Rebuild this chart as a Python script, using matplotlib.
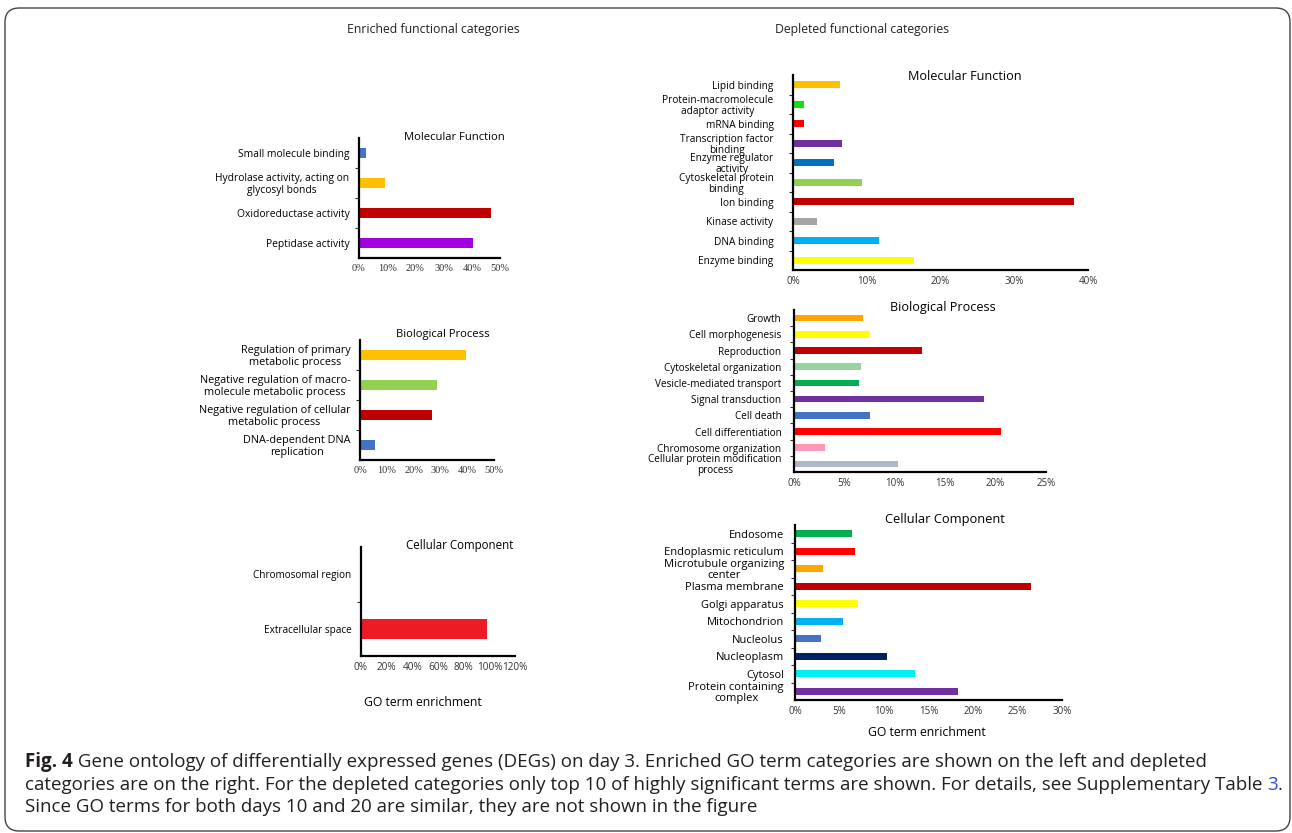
import numpy as np
import matplotlib.pyplot as plt
from matplotlib.patches import FancyBboxPatch

W, H = 1292, 833
SANS = ["Open Sans", "DejaVu Sans"]
SERIF = ["Liberation Serif", "DejaVu Serif"]

# ---- enriched categories (day 3) ----
mf_up_terms = ["Small molecule binding",
               "Hydrolase activity, acting on\nglycosyl bonds",
               "Oxidoreductase activity",
               "Peptidase activity"]
mf_up_vals = [2.4, 9.1, 46.8, 40.3]
mf_up_colors = ["#4472C4", "#FFC000", "#C00000", "#A300E0"]

bp_up_terms = ["Regulation of primary\nmetabolic process",
               "Negative regulation of macro-\nmolecule metabolic process",
               "Negative regulation of cellular\nmetabolic process",
               "DNA-dependent DNA\nreplication"]
bp_up_vals = [39.4, 28.8, 26.8, 5.7]
bp_up_colors = ["#FFC000", "#92D050", "#C00000", "#4472C4"]

cc_up_terms = ["Chromosomal region", "Extracellular space"]
cc_up_vals = [0.0, 98.0]
cc_up_colors = ["#ED1C24", "#ED1C24"]

# ---- depleted categories (top 10) ----
mf_dn_terms = ["Lipid binding", "Protein-macromolecule\nadaptor activity",
               "mRNA binding", "Transcription factor\nbinding",
               "Enzyme regulator\nactivity", "Cytoskeletal protein\nbinding",
               "Ion binding", "Kinase activity", "DNA binding",
               "Enzyme binding"]
mf_dn_vals = [6.4, 1.5, 1.5, 6.7, 5.6, 9.3, 38.1, 3.2, 11.7, 16.4]
mf_dn_colors = ["#FFC000", "#11E011", "#FF0000", "#7030A0", "#0070C0",
                "#92D050", "#C00000", "#A5A5A5", "#00B0F0", "#FFFF00"]

bp_dn_terms = ["Growth", "Cell morphogenesis", "Reproduction",
               "Cytoskeletal organization", "Vesicle-mediated transport",
               "Signal transduction", "Cell death", "Cell differentiation",
               "Chromosome organization",
               "Cellular protein modification\nprocess"]
bp_dn_vals = [6.8, 7.5, 12.7, 6.6, 6.4, 18.8, 7.5, 20.5, 3.1, 10.3]
bp_dn_colors = ["#FFA500", "#FFFF00", "#C00000", "#98D49E", "#00B050",
                "#7030A0", "#4472C4", "#FF0000", "#FF97B8", "#ADB9CA"]

cc_dn_terms = ["Endosome", "Endoplasmic reticulum",
               "Microtubule organizing\ncenter", "Plasma membrane",
               "Golgi apparatus", "Mitochondrion", "Nucleolus",
               "Nucleoplasm", "Cytosol", "Protein containing\ncomplex"]
cc_dn_vals = [6.45, 6.7, 3.2, 26.5, 7.1, 5.4, 2.9, 10.3, 13.5, 18.3]
cc_dn_colors = ["#00B050", "#FF0000", "#FFA500", "#C00000", "#FFFF00",
                "#00B0F0", "#4472C4", "#002060", "#00EFEF", "#7030A0"]


def px_axes(fig, x0, y0, x1, y1):
    # place an axes using pixel edges measured from the top-left corner
    return fig.add_axes([x0 / W, 1 - y1 / H, (x1 - x0) / W, (y1 - y0) / H])


def fig_text(fig, x, y, s, **kw):
    return fig.text(x / W, 1 - y / H, s, **kw)


def bar_panel(ax, terms, vals, colors, xmax, step, barh=0.36,
              lab_size=7.0, lab_pad=7, tick_family=SANS, tick_size=7.0,
              spacing=1.05):
    n = len(terms)
    pos = np.arange(n)
    ax.barh(pos, vals, height=barh, color=colors)
    ax.set_ylim(n - 0.5, -0.5)
    ax.set_xlim(0, xmax)

    ax.set_yticks(pos)
    ax.set_yticklabels(terms, family=SANS, fontsize=lab_size,
                       multialignment="center", linespacing=spacing)
    ax.set_yticks(np.arange(0.5, n - 1, 1), minor=True)
    ax.tick_params(axis="y", which="major", length=0, pad=lab_pad)
    ax.tick_params(axis="y", which="minor", length=3, width=0.8,
                   color="#333333")

    xt = np.arange(0, xmax + step / 2, step)
    ax.set_xticks(xt)
    ax.set_xticklabels([f"{int(v)}%" for v in xt], family=tick_family,
                       fontsize=tick_size, color="#333333")
    ax.tick_params(axis="x", length=0, pad=4)

    for s in ["top", "right"]:
        ax.spines[s].set_visible(False)
    for s in ["left", "bottom"]:
        ax.spines[s].set_linewidth(1.6)
        ax.spines[s].set_color("black")
    ax.patch.set_alpha(0)


fig = plt.figure(figsize=(W / 100, H / 100), dpi=100)

# rounded frame around the figure
frame = FancyBboxPatch((5 / W, 1 - 831 / H), (1290 - 5) / W, (831 - 8) / H,
                       boxstyle="round,pad=0,rounding_size=0.011",
                       mutation_aspect=W / H, transform=fig.transFigure,
                       fc="none", ec="#444444", lw=1.0)
fig.patches.append(frame)

fig_text(fig, 433, 30, "Enriched functional categories", family=SANS,
         fontsize=8.8, ha="center", va="center", color="#222222")
fig_text(fig, 862, 30, "Depleted functional categories", family=SANS,
         fontsize=8.8, ha="center", va="center", color="#222222")

# left column
ax = px_axes(fig, 359, 138, 500, 258)
bar_panel(ax, mf_up_terms, mf_up_vals, mf_up_colors, 50, 10, barh=0.35,
          lab_size=7.4, tick_family=SERIF, tick_size=7.5)
fig_text(fig, 454, 137, "Molecular Function", family=SANS, fontsize=8.1,
         ha="center", va="center")

ax = px_axes(fig, 360, 340, 494, 460)
bar_panel(ax, bp_up_terms, bp_up_vals, bp_up_colors, 50, 10, barh=0.35,
          lab_size=7.8, tick_family=SERIF, tick_size=7.5, spacing=1.1)
fig_text(fig, 443, 334, "Biological Process", family=SANS, fontsize=8.1,
         ha="center", va="center")

ax = px_axes(fig, 361, 547, 515, 656)
bar_panel(ax, cc_up_terms, cc_up_vals, cc_up_colors, 120, 20, barh=0.36,
          lab_size=7.2, tick_size=7.2)
fig_text(fig, 460, 546, "Cellular Component", family=SANS, fontsize=8.3,
         ha="center", va="center")
fig_text(fig, 423, 703, "GO term enrichment", family=SANS, fontsize=8.8,
         ha="center", va="center")

# right column
ax = px_axes(fig, 793, 75, 1088, 270)
bar_panel(ax, mf_dn_terms, mf_dn_vals, mf_dn_colors, 40, 10, barh=0.36,
          lab_size=7.3, lab_pad=14, spacing=0.98)
fig_text(fig, 965, 76, "Molecular Function", family=SANS, fontsize=9.1,
         ha="center", va="center")

ax = px_axes(fig, 794, 310, 1046, 472)
bar_panel(ax, bp_dn_terms, bp_dn_vals, bp_dn_colors, 25, 5, barh=0.4,
          lab_size=7.2, lab_pad=9, spacing=1.0)
fig_text(fig, 943, 307, "Biological Process", family=SANS, fontsize=9.1,
         ha="center", va="center")

ax = px_axes(fig, 795, 525, 1062, 700)
bar_panel(ax, cc_dn_terms, cc_dn_vals, cc_dn_colors, 30, 5, barh=0.38,
          lab_pad=8, lab_size=8.0, spacing=1.0)
fig_text(fig, 945, 520, "Cellular Component", family=SANS, fontsize=9.3,
         ha="center", va="center")
fig_text(fig, 927, 732, "GO term enrichment", family=SANS, fontsize=8.8,
         ha="center", va="center")

# caption
cap_kw = dict(family=SANS, fontsize=13.5, color="#231F20")
ax0 = fig.add_axes([0, 0, 1, 1])
ax0.axis("off")
t = fig_text(fig, 25, 762, "Fig. 4", fontweight="bold", va="center", **cap_kw)
ax0.annotate(" Gene ontology of differentially expressed genes (DEGs) on day 3."
             " Enriched GO term categories are shown on the left and depleted",
             xy=(1, 0.5), xycoords=t, va="center", **cap_kw)
t2 = fig_text(fig, 25, 785, "categories are on the right. For the depleted "
              "categories only top 10 of highly significant terms are shown. "
              "For details, see Supplementary Table ", va="center", **cap_kw)
t3 = ax0.annotate("3", xy=(1, 0.5), xycoords=t2, va="center",
                  family=SANS, fontsize=13.5, color="#2B4FD8")
ax0.annotate(".", xy=(1, 0.5), xycoords=t3, va="center", **cap_kw)
fig_text(fig, 25, 807, "Since GO terms for both days 10 and 20 are similar, "
         "they are not shown in the figure", va="center", **cap_kw)

fig.savefig("out.png", dpi=100)
